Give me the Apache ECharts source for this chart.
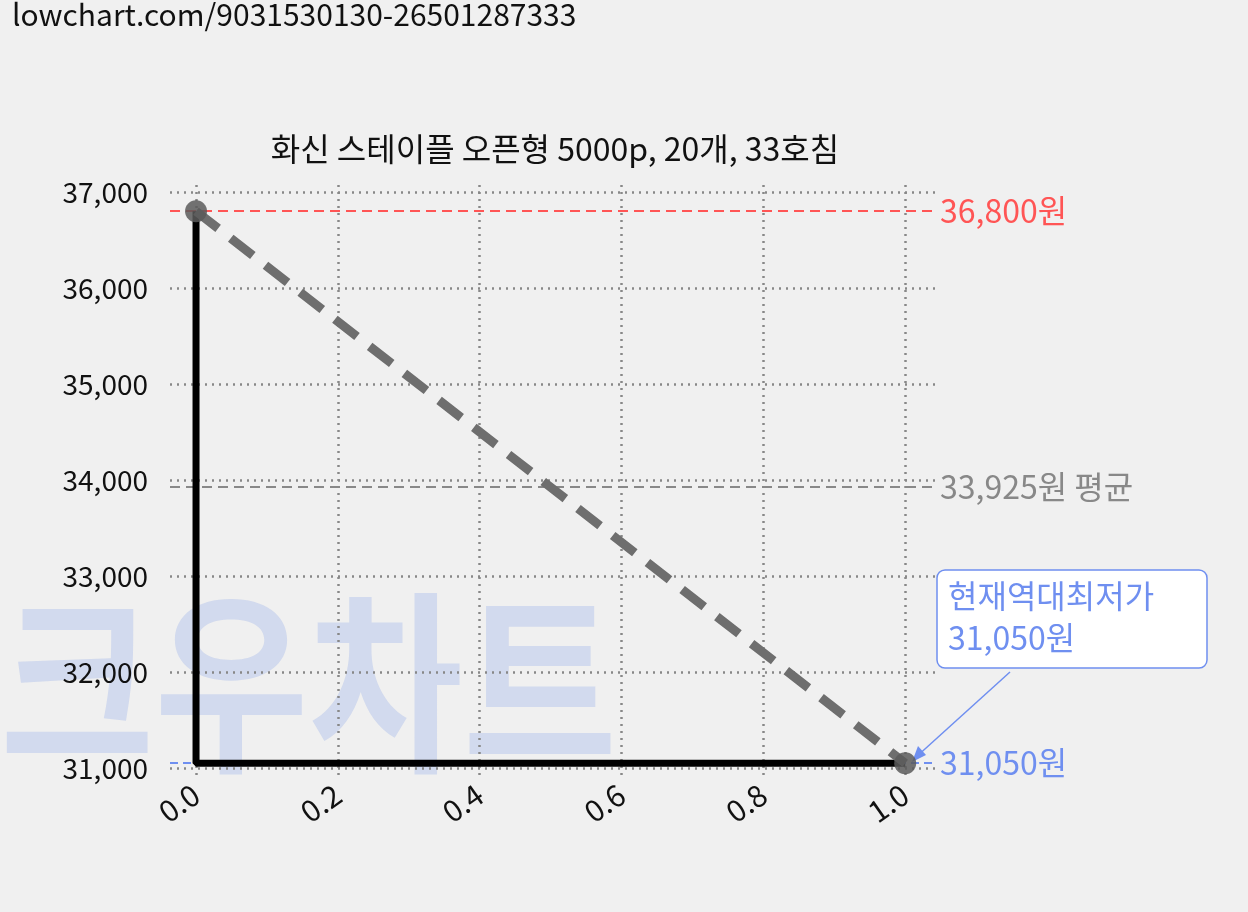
<!DOCTYPE html><html><head><meta charset="utf-8"><script src="https://cdn.jsdelivr.net/npm/echarts@6/dist/echarts.min.js"></script>
<style>html,body{margin:0;background:#f0f0f0}#c{width:1248px;height:912px}</style></head><body><div id="c"></div><script>
const xs=[0,1];
const prices=[36800,31050];
const stepPath=[[0,36800],[0,31050],[1,31050]];
const xTicks=[0,0.2,0.4,0.6,0.8,1.0];
const yTicks=[31000,32000,33000,34000,35000,36000,37000];
const maxP=36800,avgP=33925,minP=31050;
const F='"Noto Sans CJK KR","Noto Sans",sans-serif';
const ch=echarts.init(document.getElementById('c'));
const grid={type:[2,5],color:'#888',width:2.5};
ch.setOption({backgroundColor:'#f0f0f0',animation:false,
title:{text:'화신 스테이플 오픈형 5000p, 20개, 33호침',left:550,textAlign:'center',top:128,textStyle:{fontFamily:F,fontSize:32,fontWeight:'normal',color:'#111'}},
graphic:[
{type:'text',left:12,top:0,style:{text:'lowchart.com/9031530130-26501287333',font:'30px '+F,fill:'#111'}},
{type:'text',x:0,y:585,scaleX:0.86,z:-1,style:{text:'크우차트',font:'bold 195px '+F,fill:'rgba(120,150,230,0.25)'}},
{type:'line',shape:{x1:1010,y1:672,x2:915,y2:758},style:{stroke:'#6f8ff0',lineWidth:1.5}},
{type:'polygon',shape:{points:[[912,762],[918,746],[926,755]]},style:{fill:'#6f8ff0'}},
{type:'rect',shape:{x:937,y:570,width:270,height:98,r:8},style:{fill:'#fff',stroke:'#6f8ff0',lineWidth:1.5}},
{type:'text',left:948,top:575,style:{text:'현재역대최저가\n31,050원',font:'32px '+F,fill:'#6f8ff0',lineHeight:42}}
],
grid:{left:170,right:313,top:185,bottom:137},
xAxis:{type:'value',min:-0.0367,max:1.042,axisLine:{show:false},axisTick:{show:false},splitLine:{show:false},
axisLabel:{customValues:xTicks,rotate:35,fontSize:30,fontFamily:F,color:'#111',margin:16,formatter:v=>v.toFixed(1)}},
yAxis:{type:'value',min:30927,max:37073,axisLine:{show:false},axisTick:{show:false},splitLine:{show:false},
axisLabel:{customValues:yTicks,fontSize:28,fontFamily:F,color:'#111',margin:22,formatter:v=>v.toLocaleString('en-US')}},
series:[
{type:'line',data:[],z:0,markLine:{silent:true,z:0,symbol:'none',label:{show:false},lineStyle:grid,
 data:[...xTicks.map(v=>({xAxis:v})),...yTicks.map(v=>({yAxis:v}))]}},
{type:'line',data:stepPath,symbol:'none',lineStyle:{color:'#000',width:7},z:5},
{type:'line',data:xs.map((x,i)=>[x,prices[i]]),symbol:'circle',symbolSize:22,itemStyle:{color:'rgba(90,90,90,0.85)'},lineStyle:{color:'#6e6e6e',width:9,type:[28,16]},z:6,
 markLine:{silent:true,symbol:'none',data:[
 {yAxis:maxP,lineStyle:{color:'#f55',type:[10,6],width:2},label:{formatter:'36,800원',color:'#f55',fontSize:32,fontFamily:F}},
 {yAxis:avgP,lineStyle:{color:'#888',type:[10,6],width:2},label:{formatter:'33,925원 평균',color:'#888',fontSize:32,fontFamily:F}},
 {yAxis:minP,lineStyle:{color:'#6f8ff0',type:[8,5],width:2},label:{formatter:'31,050원',color:'#6f8ff0',fontSize:32,fontFamily:F}}]}}
]});
</script></body></html>
